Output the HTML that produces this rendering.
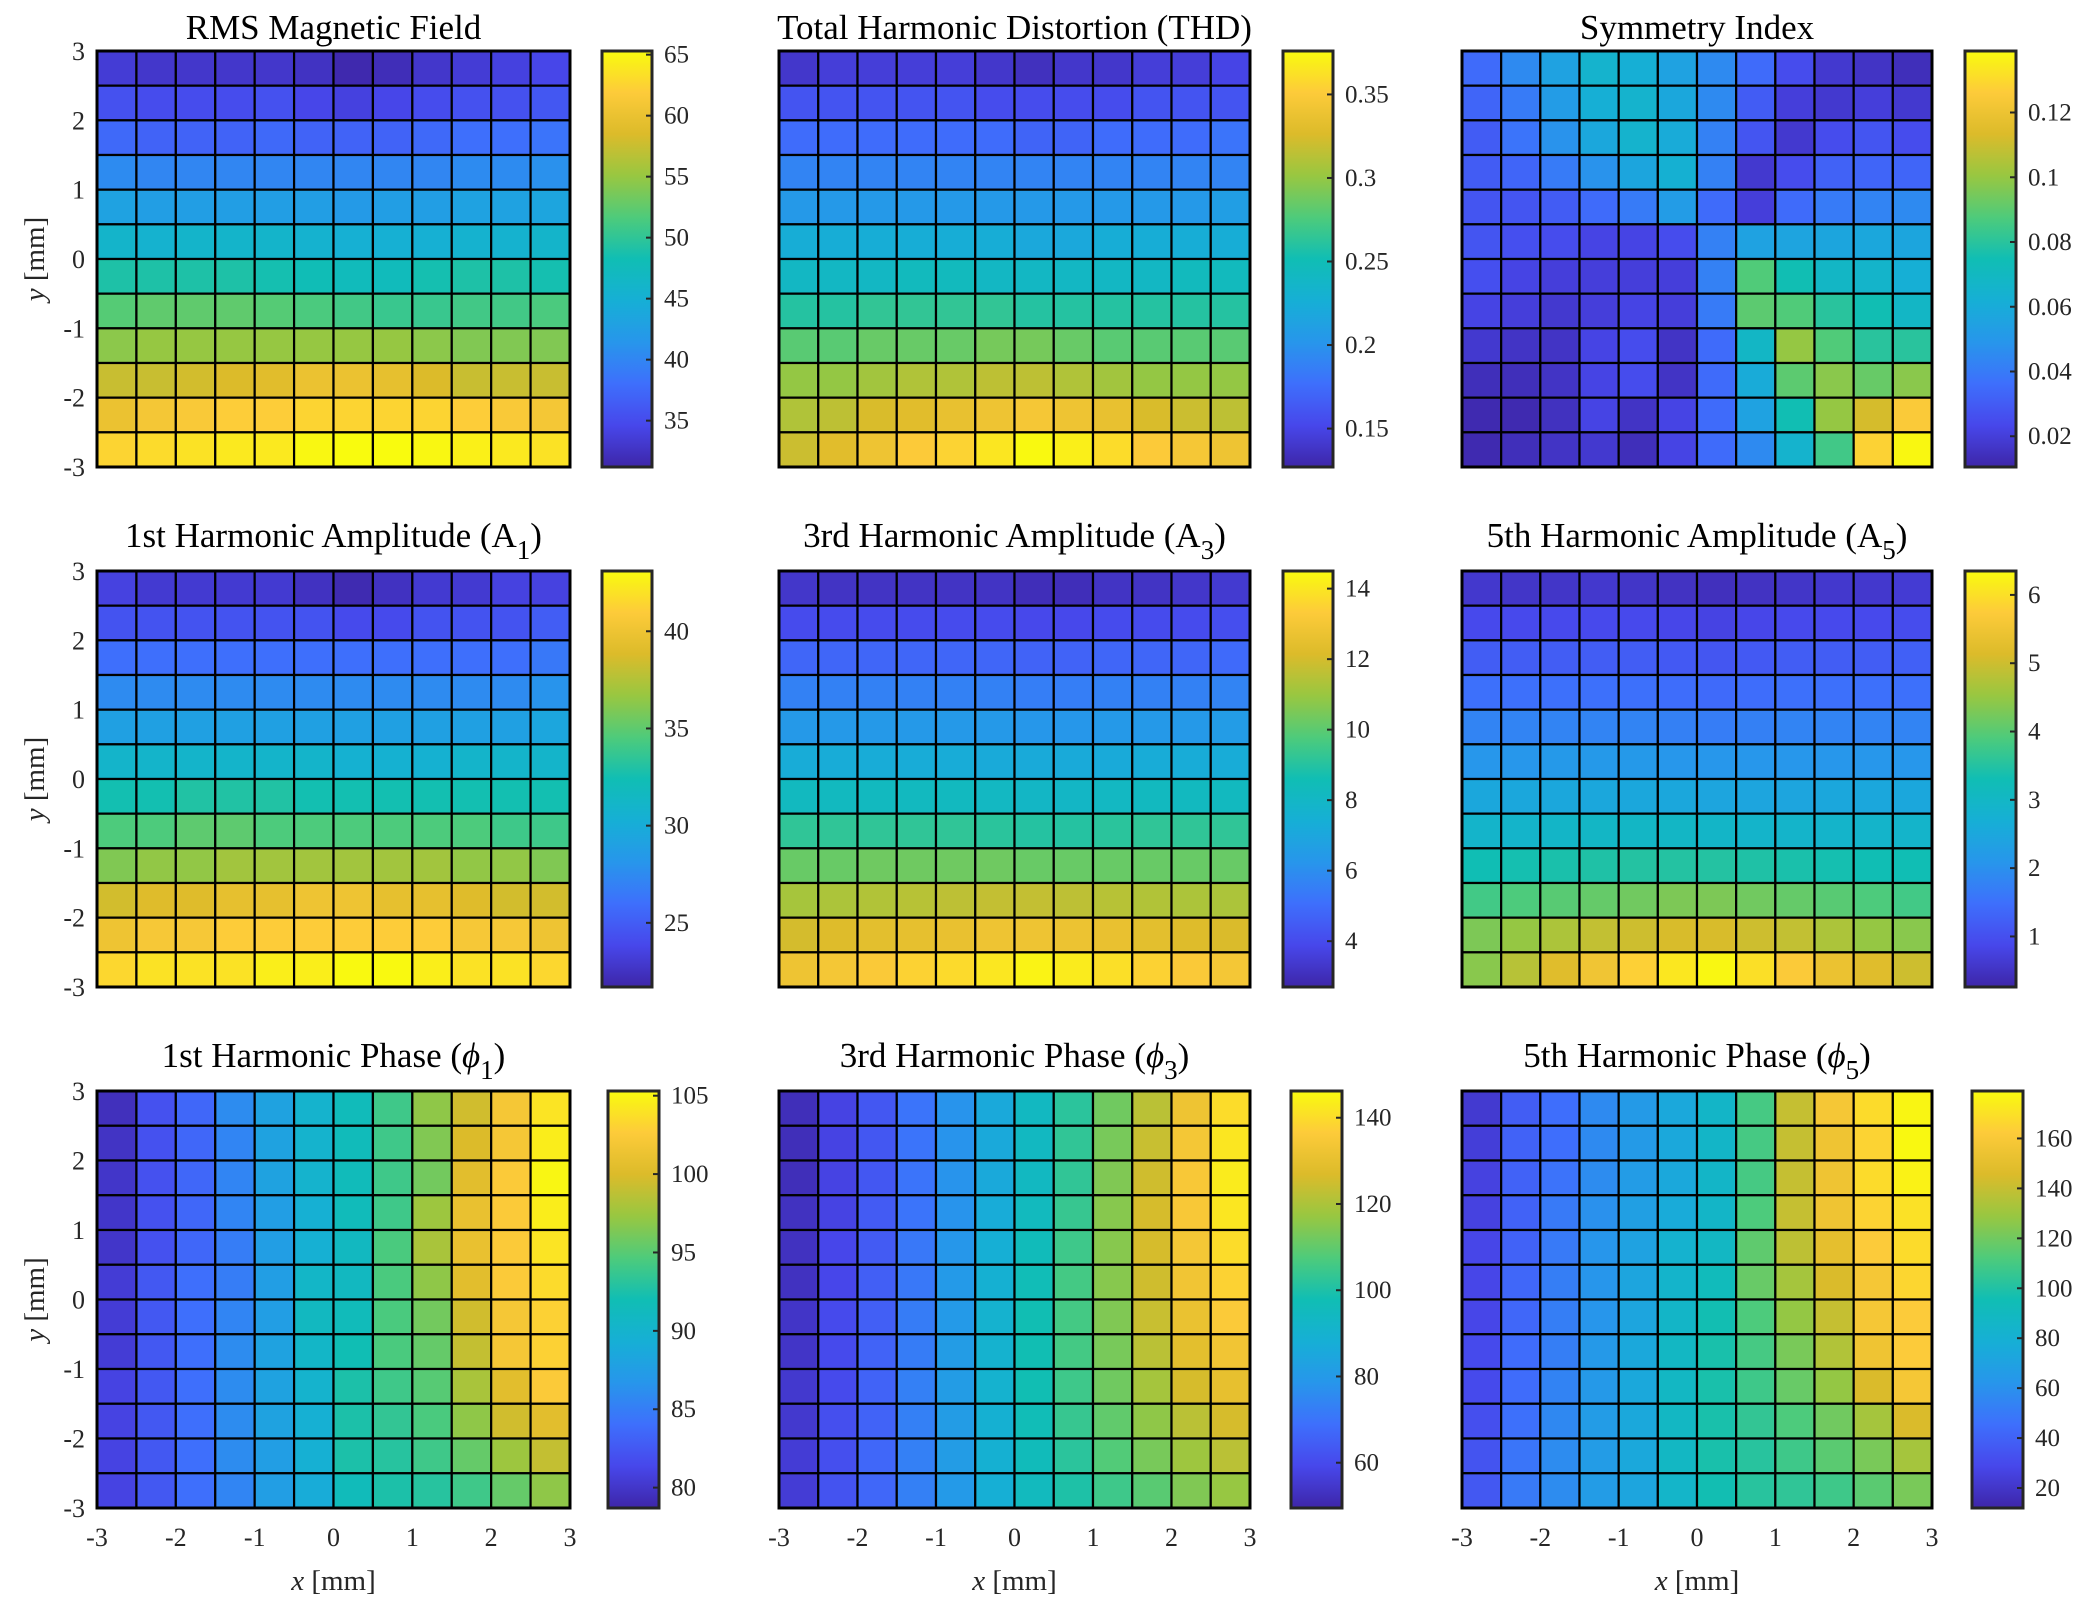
<!DOCTYPE html>
<html><head><meta charset="utf-8"><style>
html,body{margin:0;padding:0;background:#fff;}
svg{display:block;font-family:"Liberation Serif",serif;}
</style></head><body>
<svg id="fig" width="2092" height="1605" viewBox="0 0 2092 1605">
<defs id="defs"></defs>
</svg>
<script>
// ---- data (values per 12x12 grid; row 0 = top, y=3) ----
const xTicks = [-3,-2,-1,0,1,2,3];
const yTicks = [3,2,1,0,-1,-2,-3];
const rmsField = [
[33.5,33,33,33,33,32.5,31.5,32,33,33.5,34,34.5],
[35.5,35,35,35,35.5,34.5,34,34.5,35,35.5,35.5,36],
[37.5,37,37,37,37.5,37,37,37,37.5,38,38,38.5],
[40.5,40,40,40,40,40,40,40,40,40.5,40.5,41],
[43,42.5,42.5,42.5,42.5,42.5,42,42.5,42.5,43,43,43.5],
[46,45.5,46,46,46,45.5,45,45,45,45.5,45.5,46],
[49,49,49,49,48.5,48,47.5,47.5,48.5,49,49,48.5],
[52,52.5,52.5,52.5,52,51.5,51,50.5,50.5,51,51,51.5],
[54.5,55,55,55,55,55,55,55,54.5,54,54,54],
[57.5,57.5,58,58.5,59,60,60,59.5,58.5,57.5,57.5,57.5],
[60,61,61.5,62,62,62.5,62.5,62.5,62.5,62,61.5,61],
[62.5,63,63.5,64,64,65,65.5,65.5,65,64.5,64,63.5]];
const thd = [
[.14,.145,.145,.145,.145,.14,.135,.14,.14,.145,.145,.15],
[.16,.16,.16,.16,.16,.155,.155,.155,.155,.16,.16,.16],
[.175,.175,.175,.175,.175,.175,.17,.17,.175,.175,.175,.18],
[.19,.19,.19,.19,.19,.19,.19,.19,.19,.19,.19,.19],
[.205,.205,.205,.205,.205,.205,.205,.205,.205,.205,.205,.21],
[.225,.225,.225,.225,.225,.225,.22,.22,.225,.225,.225,.225],
[.24,.24,.24,.245,.245,.24,.24,.24,.24,.24,.245,.245],
[.26,.26,.265,.265,.265,.265,.26,.26,.26,.26,.26,.26],
[.28,.28,.285,.285,.285,.29,.29,.285,.28,.28,.28,.28],
[.3,.3,.305,.31,.31,.315,.315,.31,.305,.3,.3,.3],
[.31,.315,.325,.33,.335,.34,.345,.34,.335,.325,.32,.315],
[.32,.33,.34,.35,.355,.365,.375,.37,.36,.35,.345,.34]];
const symmetry = [
[.035,.045,.055,.065,.062,.055,.045,.035,.025,.018,.016,.014],
[.033,.04,.052,.062,.065,.058,.045,.03,.02,.018,.02,.018],
[.03,.038,.048,.058,.065,.06,.042,.028,.018,.025,.028,.025],
[.03,.033,.04,.048,.057,.063,.042,.018,.025,.032,.033,.033],
[.028,.028,.03,.035,.04,.052,.035,.02,.035,.04,.043,.045],
[.028,.026,.025,.022,.022,.025,.042,.055,.056,.057,.058,.057],
[.026,.022,.02,.02,.02,.02,.042,.088,.075,.068,.066,.062],
[.022,.02,.018,.02,.022,.02,.04,.09,.088,.08,.075,.068],
[.018,.016,.016,.022,.025,.016,.035,.068,.1,.088,.08,.08],
[.014,.014,.016,.022,.025,.016,.035,.06,.09,.098,.092,.098],
[.012,.012,.015,.022,.016,.022,.035,.055,.075,.1,.112,.125],
[.012,.014,.016,.018,.014,.022,.035,.045,.065,.085,.128,.138]];
const ampA1 = [
[23.5,23,23,23,23,22.5,22,22.5,23,23,23.5,23.5],
[24.5,24.5,24.5,24.5,24.5,24.5,24,24,24.5,24.5,24.5,25],
[26,26,26,26,26,26,26,26,26,26,26,26.5],
[27.5,27.5,27.5,27.5,27.5,27.5,27.5,27.5,27.5,27.5,27.5,28],
[29,29,29,29,29,29,29,29,29,29,29,29.5],
[31,31,31,31,31,31,30.5,30.5,30.5,31,31,31],
[32.5,32.5,33,33,33,32.5,32.5,32.5,32.5,32.5,32.5,32.5],
[34.5,34.5,35,35,34.5,34.5,34.5,34.5,34.5,34.5,34,34],
[36,36.5,36.5,37,37,37,37,37,37,36.5,36.5,36],
[38.5,39,39,39.5,39.5,40,40,39.5,39.5,39,38.5,38.5],
[40,40.5,40.5,41,41,41,41,41,41,40.5,40.5,40],
[41.5,42,42,42,42.5,42.5,43,43,42.5,42,42,41.5]];
const ampA3 = [
[3.3,3.2,3.2,3.2,3.2,3.2,3,3,3.2,3.2,3.3,3.4],
[4,4,4,4,4,4,3.9,3.9,4,4,4,4.1],
[4.8,4.8,4.8,4.8,4.8,4.8,4.7,4.7,4.8,4.8,4.8,4.9],
[5.6,5.6,5.6,5.6,5.6,5.6,5.5,5.5,5.6,5.6,5.6,5.7],
[6.4,6.4,6.4,6.4,6.4,6.4,6.3,6.3,6.4,6.4,6.4,6.5],
[7.3,7.3,7.3,7.3,7.3,7.2,7.2,7.2,7.2,7.3,7.3,7.3],
[8.2,8.2,8.2,8.2,8.2,8.1,8,8,8.1,8.2,8.2,8.2],
[9.2,9.2,9.2,9.2,9.2,9.1,9,9,9.1,9.2,9.2,9.2],
[10.2,10.2,10.3,10.3,10.3,10.3,10.2,10.2,10.2,10.2,10.2,10.2],
[11.2,11.3,11.4,11.5,11.6,11.7,11.7,11.6,11.5,11.4,11.3,11.3],
[12,12.2,12.4,12.5,12.6,12.8,12.8,12.7,12.6,12.4,12.2,12.1],
[12.8,13,13.2,13.5,13.7,14,14.3,14.1,13.8,13.5,13.2,13]];
const ampA5 = [
[.6,.55,.55,.6,.55,.5,.45,.5,.55,.6,.6,.65],
[.9,.9,.9,.9,.9,.85,.8,.85,.9,.9,.9,.95],
[1.2,1.2,1.2,1.2,1.2,1.15,1.1,1.15,1.2,1.2,1.2,1.25],
[1.5,1.5,1.5,1.5,1.5,1.45,1.4,1.45,1.5,1.5,1.5,1.5],
[1.8,1.8,1.8,1.8,1.8,1.75,1.7,1.75,1.8,1.8,1.8,1.8],
[2.1,2.1,2.15,2.15,2.15,2.1,2.1,2.1,2.1,2.1,2.1,2.1],
[2.5,2.5,2.5,2.5,2.5,2.5,2.45,2.45,2.45,2.5,2.5,2.5],
[2.9,2.9,2.95,3,3,3,2.95,2.9,2.9,2.9,2.9,2.9],
[3.3,3.35,3.4,3.45,3.5,3.5,3.5,3.45,3.4,3.35,3.3,3.3],
[3.8,3.9,4,4.1,4.2,4.3,4.3,4.2,4.1,4,3.9,3.8],
[4.3,4.5,4.7,4.9,5,5.1,5.1,5,4.9,4.7,4.5,4.4],
[4.4,4.8,5.2,5.5,5.8,6.1,6.3,6,5.7,5.4,5.2,5]];
const phase1 = [
[79.5,82,83.5,86,88,90,91.5,94,97,99.5,102,104],
[79.8,82,83.5,85.5,88,90,91.5,94,96.5,100,102,104.5],
[80,82,83.5,85.5,88,90,91.5,94,96,100.5,102.5,105],
[80,82,83.5,85.5,87.5,89.5,91.5,94,97.5,101,102.5,104.5],
[80,82,83.5,85,87.5,89.5,91,94.5,98,101,102.5,104],
[80.5,82.5,84,85,87.5,90.5,91,94.5,97,100.5,102.5,103.5],
[80.5,82.5,84,85.5,87.5,91,91.5,94.5,96,99.5,102,103],
[80.5,82.5,84,86,88,90.5,92,94.5,95.5,99,102,103],
[81,82.5,84,86,88,90,92.5,94,95,98,100.5,102.5],
[81,82.5,84,86,88,89.5,92.5,93.5,94.5,97,99.5,100.5],
[81,82.5,84,86,87.5,89.5,92.5,93,94,95.5,97.5,99],
[81,82.5,84,85.5,87.5,89,91.5,92.5,93,94,95.5,97]];
const phase3 = [
[52,58,63,70,78,86,94,102,112,122,132,140],
[52,58,63,70,78,86,94,103,113,124,134,142],
[52,58,63,70,78,86,94,103,114,125,135,143],
[53,58,64,70,78,87,95,104,115,126,135,142],
[53,59,64,71,79,88,96,105,115,126,134,140],
[53,59,65,71,80,89,97,106,115,125,133,138],
[54,60,65,72,80,90,98,106,114,124,131,136],
[54,60,66,72,81,90,98,106,113,122,129,133],
[55,60,66,73,81,90,98,105,112,119,126,130],
[55,61,66,73,81,89,97,104,110,116,122,126],
[56,61,67,73,81,89,96,102,108,113,118,122],
[56,62,67,73,80,88,95,100,105,109,114,117]];
const phase5 = [
[22,38,45,57,65,74,86,110,140,158,168,177],
[24,40,45,57,65,74,86,110,140,155,165,178],
[26,40,47,58,66,74,86,110,140,155,168,176],
[26,40,50,60,68,76,86,112,140,155,165,170],
[28,40,50,62,70,82,88,116,138,150,162,168],
[28,42,52,62,72,84,92,118,132,145,158,166],
[28,42,52,62,72,86,96,112,128,140,158,162],
[30,44,52,64,74,88,98,110,122,135,155,162],
[30,44,54,64,74,88,98,108,118,128,145,158],
[32,46,56,66,74,88,98,105,112,120,132,145],
[34,48,58,66,74,88,98,102,108,115,122,132],
[36,50,58,66,72,85,96,102,104,108,115,122]];
const climRms = [31.2,65.3], climThd = [0.127,0.376], climSym = [0.0105,0.139];
const climA1 = [21.7,43.1], climA3 = [2.7,14.5], climA5 = [0.26,6.35];
const climP1 = [78.7,105.3], climP3 = [49.5,146.2], climP5 = [12,179];
const cbRms = [35,40,45,50,55,60,65], cbThd = [0.15,0.2,0.25,0.3,0.35], cbSym = [0.02,0.04,0.06,0.08,0.1,0.12];
const cbA1 = [25,30,35,40], cbA3 = [4,6,8,10,12,14], cbA5 = [1,2,3,4,5,6];
const cbP1 = [80,85,90,95,100,105], cbP3 = [60,80,100,120,140], cbP5 = [20,40,60,80,100,120,140,160];

// parula approximation
const PAR = [[0,62,38,168],[0.1,71,71,235],[0.2,62,111,252],[0.3,39,150,235],[0.4,22,175,213],[0.5,16,190,180],[0.6,78,203,123],[0.7,152,199,65],[0.8,220,187,42],[0.9,253,203,58],[1,249,251,14]];
function parula(t){t=Math.max(0,Math.min(1,t));for(let i=1;i<PAR.length;i++){if(t<=PAR[i][0]){const a=PAR[i-1],b=PAR[i];const f=(t-a[0])/(b[0]-a[0]);return 'rgb('+[1,2,3].map(k=>Math.round(a[k]+(b[k]-a[k])*f)).join(',')+')';}}return 'rgb(249,251,14)';}

const NS='http://www.w3.org/2000/svg';
const svg=document.getElementById('fig');
function mk(tag,attrs,parent){const e=document.createElementNS(NS,tag);for(const k in attrs)e.setAttribute(k,attrs[k]);(parent||svg).appendChild(e);return e;}

const grad=mk('linearGradient',{id:'parulaGrad',x1:0,y1:1,x2:0,y2:0},document.getElementById('defs'));
for(let i=0;i<=40;i++){mk('stop',{offset:i/40,'stop-color':parula(i/40)},grad);}

const colsX=[[97,570],[779,1250],[1462,1932]];
const rowsY=[[51,467],[571,987],[1091,1508]];
const cbX=[[[602,652],[1283,1333],[1965,2016]],[[602,652],[1283,1333],[1965,2016]],[[608,659],[1291,1342],[1972,2023]]];

const panels=[
 {name:'rms-magnetic-field',title:['RMS Magnetic Field'],data:rmsField,clim:climRms,ticks:cbRms},
 {name:'total-harmonic-distortion',title:['Total Harmonic Distortion (THD)'],data:thd,clim:climThd,ticks:cbThd},
 {name:'symmetry-index',title:['Symmetry Index'],data:symmetry,clim:climSym,ticks:cbSym},
 {name:'first-harmonic-amplitude',title:['1st Harmonic Amplitude (A','1',')'],data:ampA1,clim:climA1,ticks:cbA1},
 {name:'third-harmonic-amplitude',title:['3rd Harmonic Amplitude (A','3',')'],data:ampA3,clim:climA3,ticks:cbA3},
 {name:'fifth-harmonic-amplitude',title:['5th Harmonic Amplitude (A','5',')'],data:ampA5,clim:climA5,ticks:cbA5},
 {name:'first-harmonic-phase',title:['1st Harmonic Phase (','1',')'],phi:true,data:phase1,clim:climP1,ticks:cbP1},
 {name:'third-harmonic-phase',title:['3rd Harmonic Phase (','3',')'],phi:true,data:phase3,clim:climP3,ticks:cbP3},
 {name:'fifth-harmonic-phase',title:['5th Harmonic Phase (','5',')'],phi:true,data:phase5,clim:climP5,ticks:cbP5}
];

function fmt(v){return String(v);}

panels.forEach((p,idx)=>{
 const r=Math.floor(idx/3),c=idx%3;
 const [x0,x1]=colsX[c],[y0,y1]=rowsY[r];
 const g=mk('g',{});
 
 
 const xScale=v=>x0+(v+3)/6*(x1-x0);
 const yScale=v=>y0+(3-v)/6*(y1-y0);
 const nR=p.data.length,nC=p.data[0].length;
 const cg=mk('g',{},g);
 
 
 for(let i=0;i<nR;i++)for(let j=0;j<nC;j++){
  const v=p.data[i][j];
  const t=(v-p.clim[0])/(p.clim[1]-p.clim[0]);
  const cx0=xScale(-3+j*6/nC),cx1=xScale(-3+(j+1)*6/nC);
  const cy0=yScale(3-i*6/nR),cy1=yScale(3-(i+1)*6/nR);
  const rc=mk('rect',{x:cx0,y:cy0,width:cx1-cx0,height:cy1-cy0,fill:parula(t),stroke:'#000','stroke-width':2.2},cg);
  
  
 }
 const box=mk('rect',{x:x0,y:y0,width:x1-x0,height:y1-y0,fill:'none',stroke:'#000','stroke-width':3},g);
 
 
 const ty0 = r===0 ? y0-12 : y0-24;
 const tt=mk('text',{x:(x0+x1)/2,y:ty0,'text-anchor':'middle','font-size':35,fill:'#000'},g);
 
 
 if(p.title.length===1){tt.textContent=p.title[0];}
 else{
  const a=document.createElementNS(NS,'tspan');a.textContent=p.title[0];tt.appendChild(a);
  if(p.phi){const f=document.createElementNS(NS,'tspan');f.setAttribute('font-style','italic');f.textContent='\u03D5';tt.appendChild(f);}
  const s=document.createElementNS(NS,'tspan');s.setAttribute('font-size','27');s.setAttribute('dy','12');s.textContent=p.title[1];tt.appendChild(s);
  const e=document.createElementNS(NS,'tspan');e.setAttribute('dy','-12');e.textContent=p.title[2];tt.appendChild(e);
 }
 if(c===0){
  yTicks.forEach(v=>{
   const t=mk('text',{x:x0-12,y:yScale(v)+9,'text-anchor':'end','font-size':26,fill:'#262626'},g);
   
   
   t.textContent=fmt(v);
  });
  const yl=mk('text',{x:0,y:0,transform:'translate(44,'+((y0+y1)/2)+') rotate(-90)','text-anchor':'middle','font-size':29,fill:'#262626'},g);
  
  
  yl.innerHTML='<tspan font-style="italic">y</tspan> [mm]';
 }
 if(r===2){
  xTicks.forEach(v=>{
   const t=mk('text',{x:xScale(v),y:y1+38,'text-anchor':'middle','font-size':26,fill:'#262626'},g);
   
   
   t.textContent=fmt(v);
  });
  const xl=mk('text',{x:(x0+x1)/2,y:y1+82,'text-anchor':'middle','font-size':29,fill:'#262626'},g);
  
  
  xl.innerHTML='<tspan font-style="italic">x</tspan> [mm]';
 }
 const [bx0,bx1]=cbX[r][c];
 const cb=mk('rect',{x:bx0,y:y0,width:bx1-bx0,height:y1-y0,fill:'url(#parulaGrad)',stroke:'#262626','stroke-width':3},g);
 
 
 const cScale=v=>y1-(v-p.clim[0])/(p.clim[1]-p.clim[0])*(y1-y0);
 p.ticks.forEach(v=>{
  const ty=cScale(v);
  const tm=mk('line',{x1:bx1-6,x2:bx1,y1:ty,y2:ty,stroke:'#262626','stroke-width':2},g);
  
  
  const tl=mk('text',{x:bx1+12,y:ty+8,'font-size':25,fill:'#262626'},g);
  
  
  tl.textContent=fmt(v);
 });
});
</script>
</body></html>
